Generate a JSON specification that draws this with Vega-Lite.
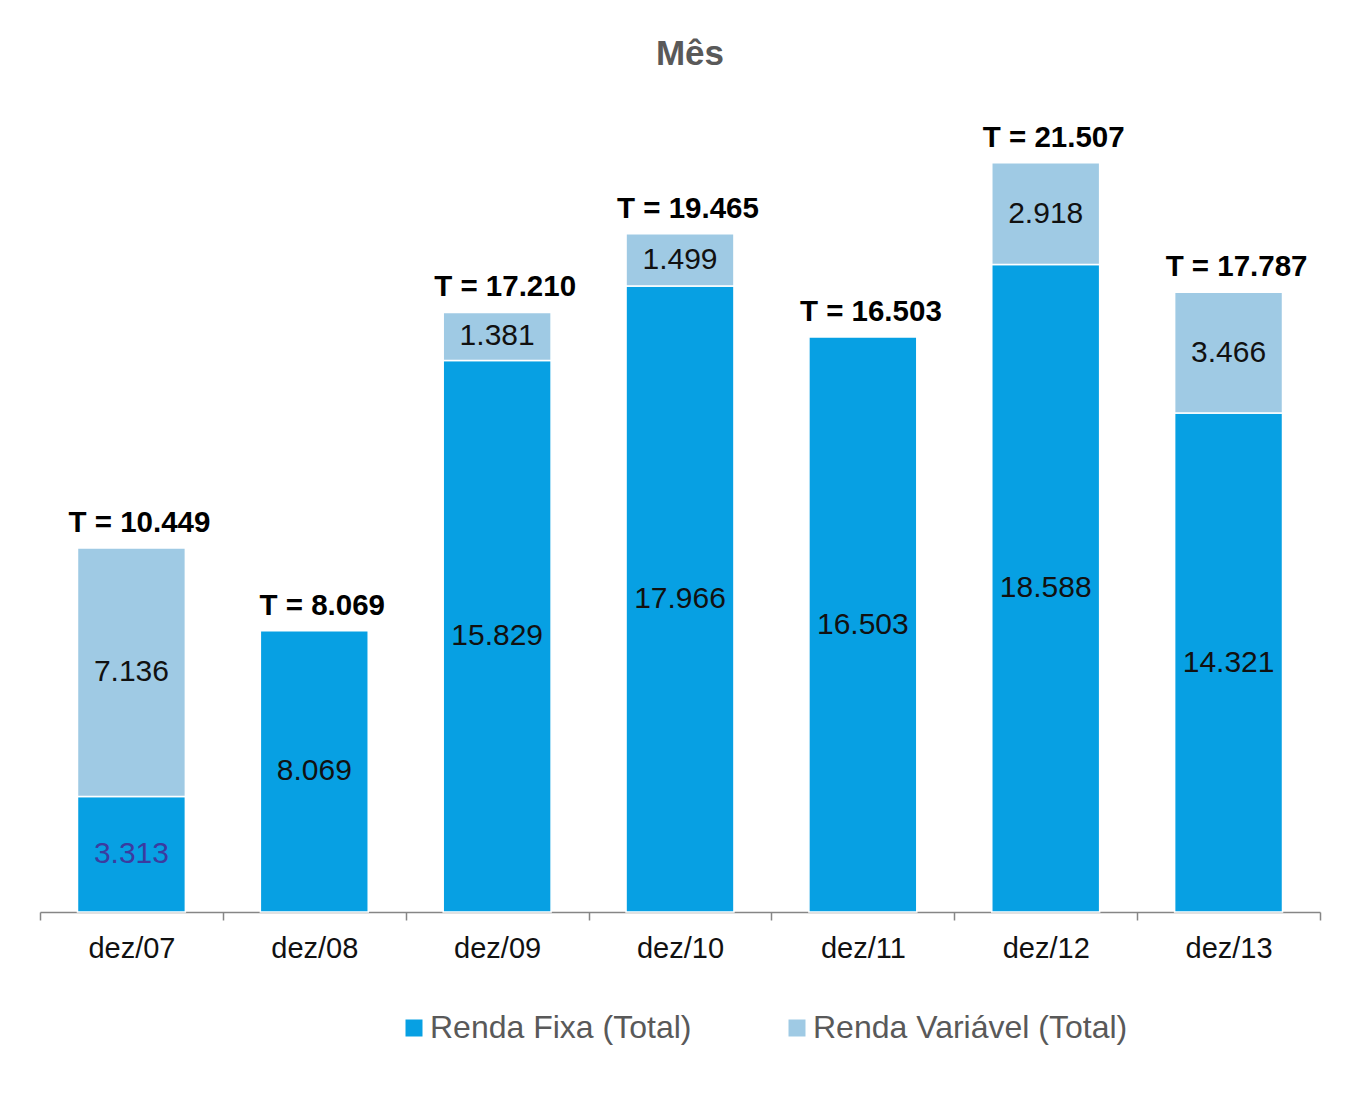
{
  "$schema": "https://vega.github.io/schema/vega-lite/v6.json",
  "autosize": {"type": "none"},
  "width": 1280,
  "height": 812,
  "padding": {"left": 40, "top": 100, "right": 28, "bottom": 197},
  "background": "white",
  "config": {
    "view": {"stroke": null},
    "font": "Liberation Sans",
    "locale": {"number": {"decimal": ",", "thousands": ".", "grouping": [3], "currency": ["R$", ""]}}
  },
  "title": {
    "text": "Mês",
    "fontSize": 35,
    "fontWeight": "bold",
    "color": "#595959",
    "anchor": "middle",
    "baseline": "alphabetic",
    "offset": 0,
    "dx": 10
  },
  "datasets": {
    "main": [
      {"cat": "dez/07", "serie": "Renda Fixa (Total)", "ord": 1, "value": 3313},
      {"cat": "dez/07", "serie": "Renda Variável (Total)", "ord": 2, "value": 7136},
      {"cat": "dez/08", "serie": "Renda Fixa (Total)", "ord": 1, "value": 8069},
      {"cat": "dez/09", "serie": "Renda Fixa (Total)", "ord": 1, "value": 15829},
      {"cat": "dez/09", "serie": "Renda Variável (Total)", "ord": 2, "value": 1381},
      {"cat": "dez/10", "serie": "Renda Fixa (Total)", "ord": 1, "value": 17966},
      {"cat": "dez/10", "serie": "Renda Variável (Total)", "ord": 2, "value": 1499},
      {"cat": "dez/11", "serie": "Renda Fixa (Total)", "ord": 1, "value": 16503},
      {"cat": "dez/12", "serie": "Renda Fixa (Total)", "ord": 1, "value": 18588},
      {"cat": "dez/12", "serie": "Renda Variável (Total)", "ord": 2, "value": 2918},
      {"cat": "dez/13", "serie": "Renda Fixa (Total)", "ord": 1, "value": 14321},
      {"cat": "dez/13", "serie": "Renda Variável (Total)", "ord": 2, "value": 3466}
    ],
    "totals": [
      {"cat": "dez/07", "total": 10449},
      {"cat": "dez/08", "total": 8069},
      {"cat": "dez/09", "total": 17210},
      {"cat": "dez/10", "total": 19465},
      {"cat": "dez/11", "total": 16503},
      {"cat": "dez/12", "total": 21507},
      {"cat": "dez/13", "total": 17787}
    ]
  },
  "data": {"name": "main"},
  "encoding": {
    "x": {
      "field": "cat",
      "type": "nominal",
      "sort": ["dez/07", "dez/08", "dez/09", "dez/10", "dez/11", "dez/12", "dez/13"],
      "scale": {"paddingInner": 0, "paddingOuter": 0},
      "axis": {
        "title": null,
        "labelAngle": 0,
        "labelFontSize": 29,
        "labelColor": "#111111",
        "labelPadding": 14,
        "domainColor": "#868686",
        "domainWidth": 1.5,
        "tickColor": "#868686",
        "tickWidth": 1.5,
        "tickSize": 8,
        "tickBand": "extent",
        "grid": false
      }
    }
  },
  "layer": [
    {
      "mark": {"type": "bar", "stroke": "white", "strokeWidth": 1.5, "width": {"band": 0.59}},
      "encoding": {
        "y": {
          "field": "value",
          "type": "quantitative",
          "stack": "zero",
          "scale": {"domain": [0, 23306], "nice": false},
          "axis": null
        },
        "order": {"field": "ord", "type": "quantitative"},
        "color": {
          "field": "serie",
          "type": "nominal",
          "scale": {
            "domain": ["Renda Fixa (Total)", "Renda Variável (Total)"],
            "range": ["#07a0e3", "#9fcae4"]
          },
          "legend": {
            "title": null,
            "orient": "none",
            "direction": "horizontal",
            "legendX": 358,
            "legendY": 912,
            "symbolType": "square",
            "symbolSize": 289,
            "symbolStrokeWidth": 0,
            "labelFontSize": 32,
            "labelColor": "#595959",
            "labelOffset": 0,
            "columnPadding": 89,
            "labelLimit": 500
          }
        }
      }
    },
    {
      "transform": [
        {"stack": "value", "groupby": ["cat"], "sort": [{"field": "ord"}], "as": ["v0", "v1"]},
        {"calculate": "(datum.v0 + datum.v1) / 2", "as": "mid"}
      ],
      "mark": {"type": "text", "fontSize": 30, "baseline": "middle", "align": "center"},
      "encoding": {
        "y": {"field": "mid", "type": "quantitative"},
        "text": {"field": "value", "type": "quantitative", "format": ",d"},
        "color": {
          "condition": {"test": "datum.cat === 'dez/07' && datum.ord === 1", "value": "#3b3ba0"},
          "value": "#111111"
        }
      }
    },
    {
      "data": {"name": "totals"},
      "transform": [
        {"calculate": "'T = ' + format(datum.total, ',d')", "as": "label"}
      ],
      "mark": {"type": "text", "fontSize": 29.5, "fontWeight": "bold", "baseline": "alphabetic", "align": "center", "dy": -16, "dx": 8, "color": "#000000"},
      "encoding": {
        "y": {"field": "total", "type": "quantitative"},
        "text": {"field": "label", "type": "nominal"}
      }
    }
  ]
}
